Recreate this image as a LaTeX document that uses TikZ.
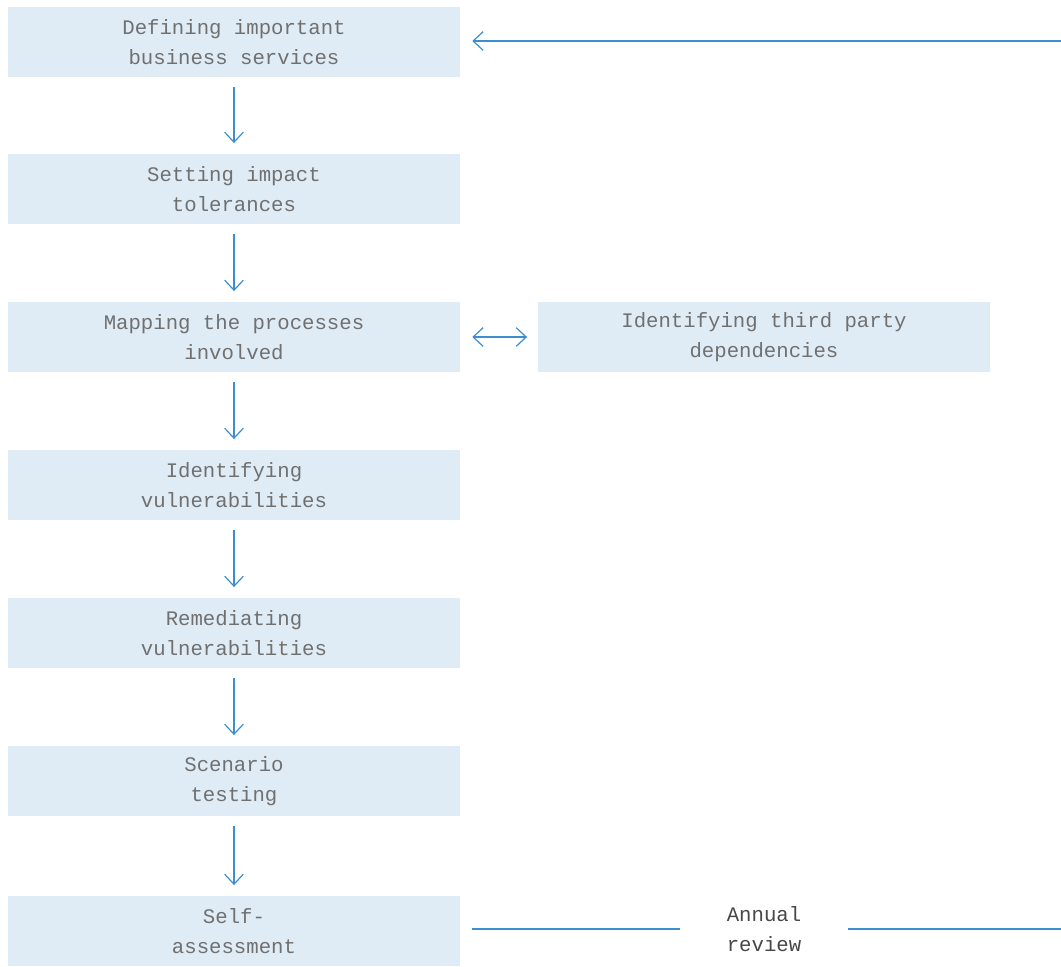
\documentclass[tikz,border=0pt]{standalone}
\usepackage{fontspec}
\setmonofont{Liberation Mono}
\usetikzlibrary{arrows.meta}

\definecolor{boxblue}{HTML}{DFECF6}
\definecolor{linkblue}{HTML}{3D8ED0}
\definecolor{textgrey}{HTML}{707070}

\tikzset{
  stepbox/.style={fill=boxblue, inner sep=0pt, minimum width=339pt, minimum height=52.5pt,
    align=center, text=textgrey, font=\ttfamily\fontsize{15.5}{22.5}\selectfont},
  link/.style={draw=linkblue, line width=0.9pt},
  barb/.tip={Straight Barb[length=7.5pt, width=14pt]},
  flow/.style={link, -barb},
}

\begin{document}
\begin{tikzpicture}[x=0.75pt, y=-0.75pt]
    \useasboundingbox (0,0) rectangle (1061,967);
    % main chain of steps
    \node[stepbox] (s1) at (234, 42) {Defining important\\business services};
    \node[stepbox] (s2) at (234, 189) {Setting impact\\tolerances};
    \node[stepbox] (s3) at (234, 337) {Mapping the processes\\involved};
    \node[stepbox] (s4) at (234, 485) {Identifying\\vulnerabilities};
    \node[stepbox] (s5) at (234, 633) {Remediating\\vulnerabilities};
    \node[stepbox] (s6) at (234, 781) {Scenario\\testing};
    \node[stepbox] (s7) at (234, 931) {Self-\\assessment};
    \foreach \i [count=\j from 2] in {1,...,6} {
        \draw[flow, shorten <=7.5pt, shorten >=8pt] (s\i) -- (s\j);
    }
    % side step
    \node[stepbox] (dep) at (764, 337) {Identifying third party\\dependencies};
    \draw[link, barb-barb, shorten <=9pt, shorten >=8pt] (s3) -- (dep);
    % annual loop back to the top
    \node[align=center, inner sep=0pt, minimum width=125pt, text=black!72,
      font=\ttfamily\fontsize{15.5}{22.5}\selectfont] (review) at (764, 929) {Annual\\review};
    \coordinate (loopend) at (1061, 929);
    \coordinate (loopstart) at (1061, 41);
    \draw[link, shorten <=9pt] (s7.east |- review) -- (review);
    \draw[link] (review) -- (loopend);
    \draw[flow, shorten >=9pt] (loopstart) -- (s1.east |- loopstart);
\end{tikzpicture}
\end{document}
